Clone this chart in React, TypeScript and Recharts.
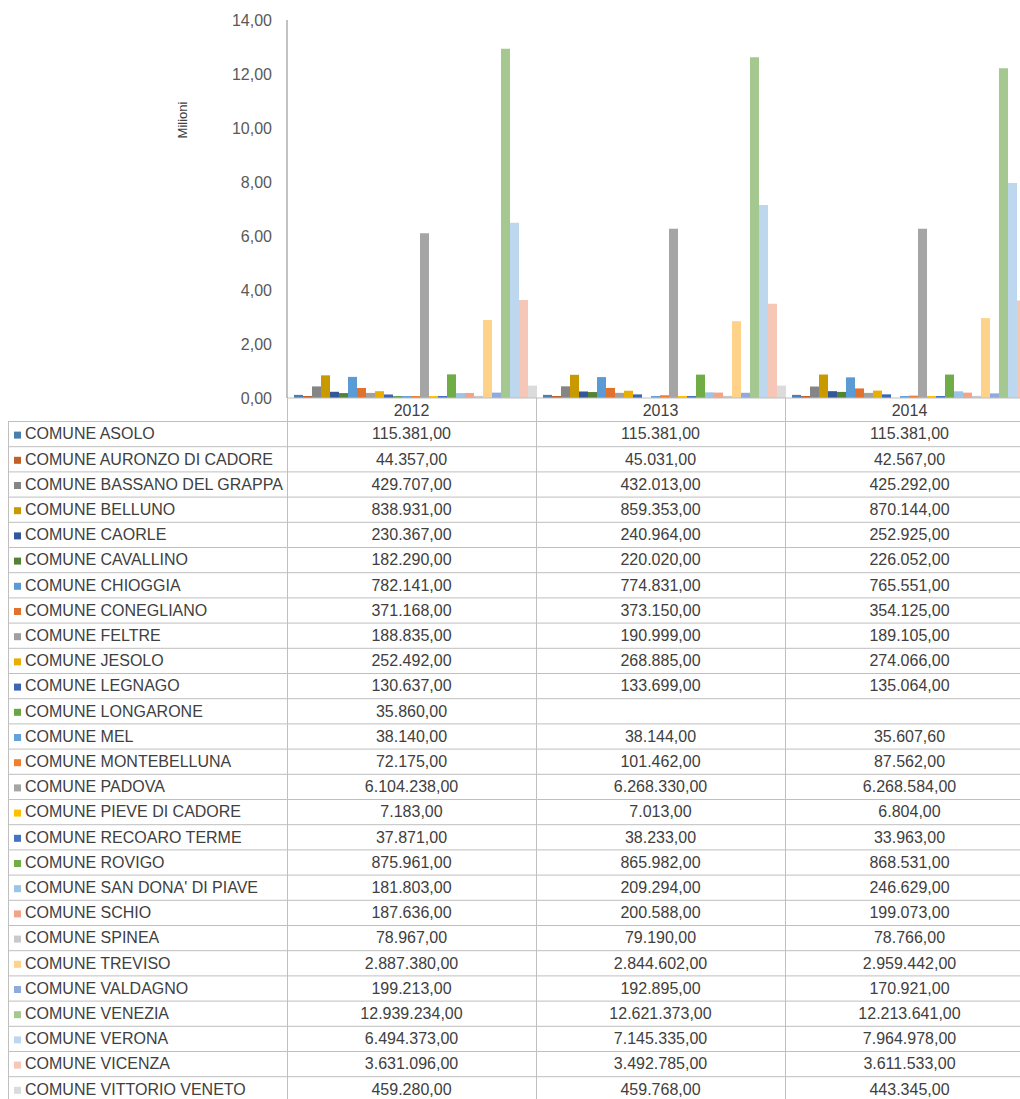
import React from "react"
import { BarChart, Bar, XAxis, YAxis } from "recharts"

const years = ["2012", "2013", "2014"]

const comuni = [
  "COMUNE ASOLO",
  "COMUNE AURONZO DI CADORE",
  "COMUNE BASSANO DEL GRAPPA",
  "COMUNE BELLUNO",
  "COMUNE CAORLE",
  "COMUNE CAVALLINO",
  "COMUNE CHIOGGIA",
  "COMUNE CONEGLIANO",
  "COMUNE FELTRE",
  "COMUNE JESOLO",
  "COMUNE LEGNAGO",
  "COMUNE LONGARONE",
  "COMUNE MEL",
  "COMUNE MONTEBELLUNA",
  "COMUNE PADOVA",
  "COMUNE PIEVE DI CADORE",
  "COMUNE RECOARO TERME",
  "COMUNE ROVIGO",
  "COMUNE SAN DONA' DI PIAVE",
  "COMUNE SCHIO",
  "COMUNE SPINEA",
  "COMUNE TREVISO",
  "COMUNE VALDAGNO",
  "COMUNE VENEZIA",
  "COMUNE VERONA",
  "COMUNE VICENZA",
  "COMUNE VITTORIO VENETO",
]

const values2012 = [
  115381, 44357, 429707, 838931, 230367, 182290, 782141, 371168, 188835,
  252492, 130637, 35860, 38140, 72175, 6104238, 7183, 37871, 875961, 181803,
  187636, 78967, 2887380, 199213, 12939234, 6494373, 3631096, 459280,
]

const values2013 = [
  115381, 45031, 432013, 859353, 240964, 220020, 774831, 373150, 190999,
  268885, 133699, null, 38144, 101462, 6268330, 7013, 38233, 865982, 209294,
  200588, 79190, 2844602, 192895, 12621373, 7145335, 3492785, 459768,
]

const values2014 = [
  115381, 42567, 425292, 870144, 252925, 226052, 765551, 354125, 189105,
  274066, 135064, null, 35607.6, 87562, 6268584, 6804, 33963, 868531, 246629,
  199073, 78766, 2959442, 170921, 12213641, 7964978, 3611533, 443345,
]

const colors = [
  "#4a7eae", "#c0602a", "#858585", "#c89a00", "#34579a", "#548235",
  "#5b9bd5", "#e0722e", "#a0a0a0", "#e8ae00", "#3e64b5", "#6aa444",
  "#62a2dc", "#f08030", "#a5a5a5", "#ffc000", "#4472c4", "#70ad47",
  "#9dc3e6", "#f2a488", "#c9c9c9", "#ffd28a", "#8faadc", "#a5c890",
  "#bdd7ee", "#f6c6b6", "#dbdbdb",
]

const yTicks = [0, 2, 4, 6, 8, 10, 12, 14]

const yearValues = [values2012, values2013, values2014]

const data = years.map((year, yi) => {
  const row: Record<string, any> = { year }
  comuni.forEach((_, ci) => {
    const v = yearValues[yi][ci]
    row["s" + ci] = v == null ? null : v / 1e6
  })
  return row
})

function fmtEuro(v: number | null) {
  if (v == null) return ""
  const [i, d] = v.toFixed(2).split(".")
  return i.replace(/\B(?=(\d{3})+(?!\d))/g, ".") + "," + d
}

const FONT = "'Liberation Sans', Arial, sans-serif"
const W = 1040
const H = 1091
const PLOT_LEFT = 279
const COL_W = 249
const TABLE_TOP = 413
const ROW_H = 25.2
const LINE = "#bfbfbf"
const TEXT = "#404040"

function DataTable() {
  const cols = [0, 1, 2, 3].map((k) => PLOT_LEFT + k * COL_W)
  return (
    <svg
      width={W}
      height={H}
      style={{ position: "absolute", left: 0, top: 0, pointerEvents: "none" }}
      fontFamily={FONT}
    >
      <text
        transform="translate(174,112) rotate(-90)"
        textAnchor="middle"
        dominantBaseline="central"
        fontSize={13}
        fill={TEXT}
      >
        Milioni
      </text>
      {years.map((y, k) => (
        <text
          key={y}
          x={cols[k] + COL_W / 2}
          y={TABLE_TOP - 11 + 5.7}
          textAnchor="middle"
          fontSize={16}
          fill={TEXT}
        >
          {y}
        </text>
      ))}
      {cols.map((x, k) => (
        <line key={k} x1={x + 0.5} x2={x + 0.5} y1={390} y2={H} stroke={LINE} />
      ))}
      <line x1={0.5} x2={0.5} y1={TABLE_TOP} y2={H} stroke={LINE} />
      {comuni.map((_, r) => (
        <line
          key={"h" + r}
          x1={0}
          x2={W}
          y1={TABLE_TOP + r * ROW_H + 0.5}
          y2={TABLE_TOP + r * ROW_H + 0.5}
          stroke={LINE}
        />
      ))}
      {comuni.map((name, r) => {
        const cy = TABLE_TOP + r * ROW_H + ROW_H / 2
        return (
          <g key={name}>
            <rect x={6} y={cy - 2} width={7} height={7} fill={colors[r]} />
            <text x={17} y={cy + 5.7} fontSize={16} fill={TEXT}>
              {name}
            </text>
            {yearValues.map((vals, k) => (
              <text
                key={k}
                x={cols[k] + COL_W / 2}
                y={cy + 5.7}
                textAnchor="middle"
                fontSize={16}
                fill={TEXT}
              >
                {fmtEuro(vals[r])}
              </text>
            ))}
          </g>
        )
      })}
    </svg>
  )
}

export default function App() {
  return (
    <div
      style={{
        position: "relative",
        width: 1020,
        height: 1099,
        overflow: "hidden",
        background: "#fff",
      }}
    >
      <style>{"body{margin:0}"}</style>
      <div style={{ position: "absolute", left: 8, top: 8, width: W, height: H }}>
        <BarChart
          width={W}
          height={H}
          data={data}
          margin={{ top: 12, right: 14, bottom: 681, left: 219 }}
          barCategoryGap={7}
          barGap={0}
        >
          <XAxis dataKey="year" tick={false} tickLine={false} axisLine={{ stroke: LINE }} height={20} />
          <YAxis
            width={60}
            domain={[0, 14]}
            ticks={yTicks}
            interval={0}
            tickFormatter={(v: number) => v.toFixed(2).replace(".", ",")}
            tick={{ fontSize: 16, fill: "#595959", fontFamily: FONT }}
            tickLine={false}
            tickSize={0}
            tickMargin={15}
            axisLine={{ stroke: "#868686" }}
          />
          {comuni.map((name, i) => (
            <Bar
              key={name}
              dataKey={"s" + i}
              name={name}
              fill={colors[i]}
              isAnimationActive={false}
              minPointSize={(v: any) => (v == null ? 0 : 2)}
            />
          ))}
        </BarChart>
        <DataTable />
      </div>
    </div>
  )
}
